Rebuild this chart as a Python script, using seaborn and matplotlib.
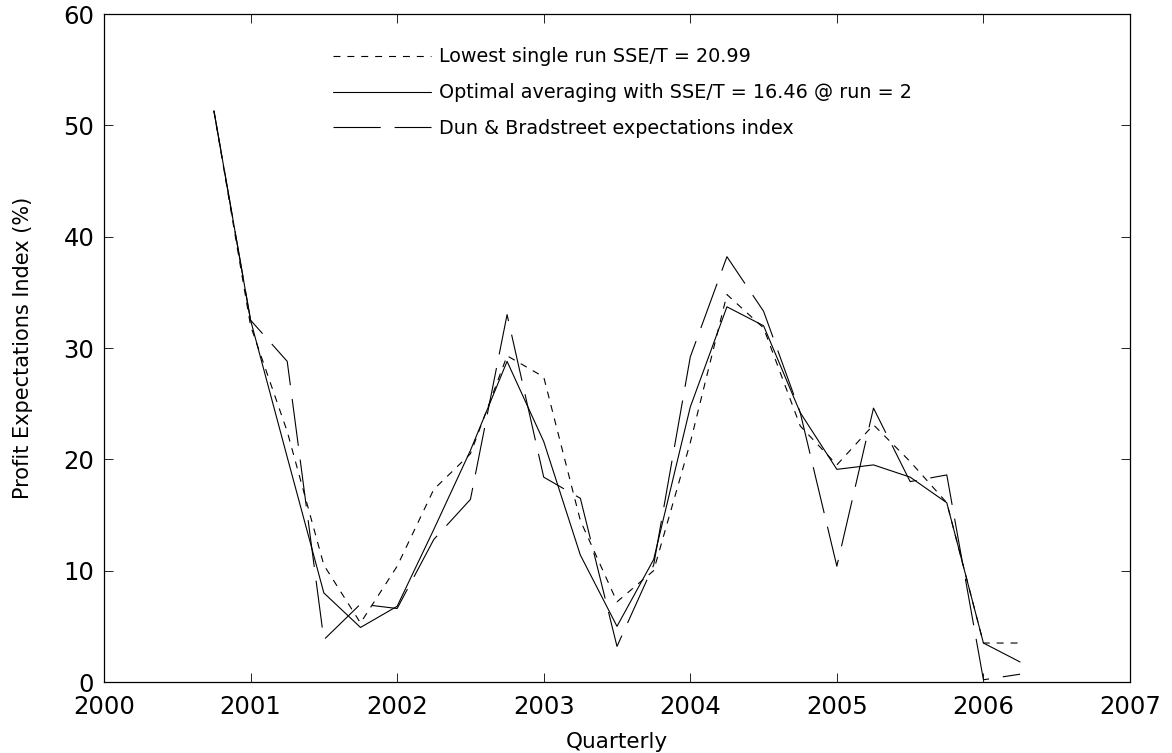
import matplotlib
matplotlib.use("Agg")
import matplotlib.pyplot as plt
import seaborn as sns
import pandas as pd

quarters = [2000.75, 2001.0, 2001.25, 2001.5, 2001.75, 2002.0, 2002.25, 2002.5,
            2002.75, 2003.0, 2003.25, 2003.5, 2003.75, 2004.0, 2004.25, 2004.5,
            2004.75, 2005.0, 2005.25, 2005.5, 2005.75, 2006.0, 2006.25]

lowest_single = [51.3, 32.0, 22.5, 10.5, 5.3, 10.4, 17.3, 20.5, 29.3, 27.4, 14.5, 7.2,
                 10.0, 21.5, 34.8, 31.8, 23.0, 19.5, 23.1, 19.8, 16.1, 3.5, 3.5]
optimal_avg = [51.3, 32.5, 20.2, 8.0, 4.9, 6.8, 13.7, 20.8, 28.8, 21.6, 11.4, 5.0,
               11.0, 24.7, 33.7, 32.0, 24.2, 19.1, 19.5, 18.4, 16.1, 3.5, 1.8]
dun_bradstreet = [51.3, 32.5, 28.8, 3.8, 7.0, 6.6, 12.8, 16.4, 33.0, 18.4, 16.5, 3.2,
                  10.5, 29.2, 38.2, 33.3, 24.2, 10.4, 24.6, 18.0, 18.6, 0.2, 0.7]

labels = ["Lowest single run SSE/T = 20.99",
          "Optimal averaging with SSE/T = 16.46 @ run = 2",
          "Dun & Bradstreet expectations index"]
x_ticks = [2000, 2001, 2002, 2003, 2004, 2005, 2006, 2007]
y_ticks = [0, 10, 20, 30, 40, 50, 60]

sns.set_style("white")
plt.rcParams["font.family"] = ["DejaVu Sans"]
plt.rcParams["lines.scale_dashes"] = False
plt.rcParams["text.color"] = "black"
plt.rcParams["axes.labelcolor"] = "black"
plt.rcParams["xtick.color"] = "black"
plt.rcParams["ytick.color"] = "black"

fig = plt.figure(figsize=(11.72, 7.53), dpi=100)
ax = fig.add_axes([104 / 1172, 71 / 753, 1026 / 1172, 668 / 753])

df = pd.DataFrame({"q": quarters, "low": lowest_single,
                   "opt": optimal_avg, "db": dun_bradstreet})

lw = 0.8
sns.lineplot(data=df, x="q", y="low", ax=ax, color="black", linewidth=lw,
             linestyle=(0, (5, 5)), label=labels[0])
sns.lineplot(data=df, x="q", y="opt", ax=ax, color="black", linewidth=lw,
             linestyle="-", label=labels[1])
sns.lineplot(data=df, x="q", y="db", ax=ax, color="black", linewidth=lw,
             linestyle=(0, (34, 10)), label=labels[2])

ax.set_xlim(2000, 2007)
ax.set_ylim(0, 60)
ax.set_xticks(x_ticks)
ax.set_yticks(y_ticks)
ax.set_xticklabels([str(t) for t in x_ticks])
ax.set_yticklabels([str(t) for t in y_ticks])

for s in ax.spines.values():
    s.set_visible(True)
    s.set_color("black")
    s.set_linewidth(0.9)

ax.tick_params(axis="both", which="both", direction="in", length=6.5, width=0.6,
               top=True, right=True, bottom=True, left=True, labelsize=17.5,
               color="black", labelcolor="black")
ax.tick_params(axis="x", pad=9.5)
ax.tick_params(axis="y", pad=7)

ax.set_xlabel("Quarterly", fontsize=15.5, labelpad=9, color="black")
ax.set_ylabel("Profit Expectations Index (%)", fontsize=15, labelpad=22, color="black")

leg = ax.legend(loc="upper left", bbox_to_anchor=(0.223, 0.950), frameon=False,
                fontsize=13.8, handlelength=5.1, handletextpad=0.45,
                labelspacing=0.88, borderpad=0, borderaxespad=0)
for t in leg.get_texts():
    t.set_color("black")

fig.savefig("out.png", dpi=100)
